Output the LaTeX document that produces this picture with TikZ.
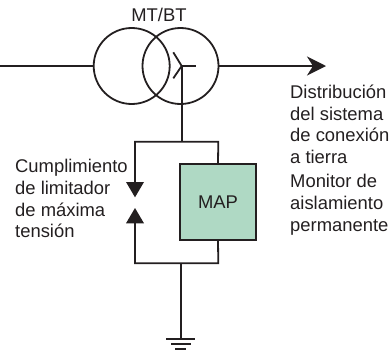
\documentclass[tikz,border=0pt]{standalone}
\usepackage{fontspec}
\usetikzlibrary{arrows.meta}
\setmainfont{Liberation Sans}
\definecolor{inkline}{HTML}{231F20}
\definecolor{mapgreen}{HTML}{AFD9C4}
\tikzset{
	wire/.style={draw=inkline, line width=1.8pt},
	label/.style={text=inkline, font=\fontsize{18.4}{21.8}\selectfont, align=left, inner sep=0pt},
	winding/.style={wire, circle, minimum size=76pt, inner sep=0pt},
	tip/.style={fill=inkline, draw=none}
}
\begin{document}
\begin{tikzpicture}[x=1pt,y=-1pt]
	\useasboundingbox (0,0) rectangle (391,351);
	\node[winding] (primary) at (131.7,66) {};
	\node[winding] (secondary) at (180.5,66) {};
	\node[label, anchor=base] (ratio) at (159,21.5) {MT/BT};

	\coordinate (linein) at (0,66);
	\coordinate (lineout) at (326,66);
	\coordinate (star) at (181.7,66);
	\coordinate (topleft) at (135,141.7);
	\coordinate (topmid) at (181.7,141.7);
	\coordinate (topright) at (218.3,141.7);
	\coordinate (botleft) at (135,263.3);
	\coordinate (botmid) at (180.7,263.3);
	\coordinate (botright) at (218.3,263.3);
	\coordinate (earth) at (180.7,339.3);

	\node[wire, fill=mapgreen, minimum width=76pt, minimum height=76pt, label] (map) at (218,202) {MAP};

	\draw[wire] (linein) -- (primary.west);
	\draw[wire, -{Stealth[length=19pt,width=19pt,inset=6pt]}] (secondary.east) -- (lineout);
	\draw[wire] (star) -- ++(14,0);
	\draw[wire] (173.3,52.3) -- (star) -- (173.3,78.3);
	\draw[wire] (star) -- (topmid);
	\draw[wire] (map.north) -- (topright) -- (topleft) -- (135,182);
	\draw[wire] (map.south) -- (botright) -- (botleft) -- (135,223);
	\draw[wire] (botmid) -- (earth);

	\fill[tip] (126,182) -- (144,182) -- (135,197.3) -- cycle;
	\fill[tip] (126,223.3) -- (144,223.3) -- (135,208) -- cycle;

	\draw[wire] (166,339.3) -- (195.3,339.3);
	\draw[wire] (171,344.3) -- (190.7,344.3);
	\draw[wire] (175,349) -- (186,349);

	\node[label, anchor=north west] (limiter) at (15,159) {Cumplimiento\\de limitador\\de máxima\\tensión};
	\node[label, anchor=north west] (dist) at (290,84.5) {Distribución\\del sistema\\de conexión\\a tierra};
	\node[label, anchor=north west] (monitor) at (290,174) {Monitor de\\aislamiento\\permanente};
\end{tikzpicture}
\end{document}
